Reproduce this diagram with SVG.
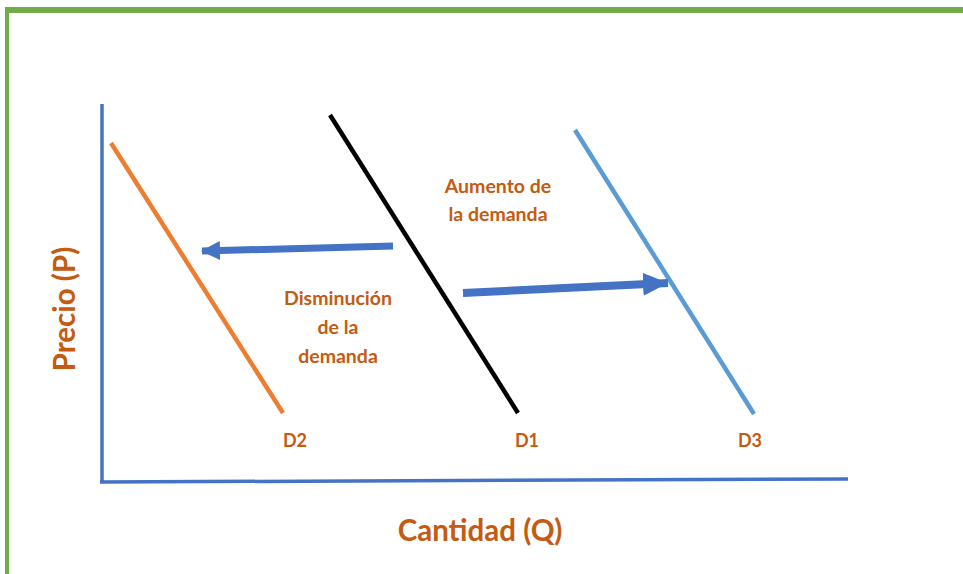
<svg xmlns="http://www.w3.org/2000/svg" width="963" height="574" viewBox="0 0 963 574">
<style>
.lbl{font-family:Lato,"Open Sans","Liberation Sans",sans-serif;font-weight:bold;fill:#C55A11;text-anchor:middle}
.s{font-size:19.5px}
.d{font-size:18px}
.t{font-size:29.5px}
.curve{stroke-width:4.5;fill:none;stroke-linecap:butt}
.arr{stroke:#4472C4;fill:none}
</style>
<defs>
<marker id="ahL" markerUnits="userSpaceOnUse" markerWidth="20" markerHeight="20" refX="18" refY="9.5" orient="auto"><path d="M0,0 L19,9.5 L0,19 Z" fill="#4472C4"/></marker>
<marker id="ahR" markerUnits="userSpaceOnUse" markerWidth="26" markerHeight="24" refX="25" refY="11.5" orient="auto"><path d="M0,0 L25,11.5 L0,23 Z" fill="#4472C4"/></marker>
</defs>
<rect width="963" height="574" fill="#fff"/>
<g id="frame" fill="#70AD47">
<rect x="5" y="7" width="958" height="6"/>
<rect x="5" y="7" width="4" height="567"/>
</g>
<g id="axes" stroke="#4472C4" stroke-width="3.5" fill="none">
<line x1="102" y1="104" x2="102" y2="483"/>
<line x1="100" y1="482" x2="848" y2="479"/>
</g>
<g id="D2"><line class="curve" x1="111" y1="143" x2="283" y2="413" stroke="#ED7D31"/><text class="lbl d" x="295" y="447">D2</text></g>
<g id="D1"><line class="curve" x1="330" y1="115" x2="518" y2="413" stroke="#000"/><text class="lbl d" x="527" y="447">D1</text></g>
<g id="D3"><line class="curve" x1="575" y1="130" x2="754" y2="414" stroke="#5B9BD5"/><text class="lbl d" x="750" y="447">D3</text></g>
<g id="connectors">
<line class="arr" x1="393" y1="246" x2="202" y2="251" stroke-width="7" marker-end="url(#ahL)"/>
<line class="arr" x1="463" y1="293" x2="668" y2="283" stroke-width="8" marker-end="url(#ahR)"/>
</g>
<g id="label-aumento"><text class="lbl s" x="498" y="193">Aumento de</text><text class="lbl s" x="498" y="221">la demanda</text></g>
<g id="label-disminucion"><text class="lbl s" x="338" y="305">Disminución</text><text class="lbl s" x="338" y="334">de la</text><text class="lbl s" x="338" y="363">demanda</text></g>
<text class="lbl t" x="480" y="541">Cantidad (Q)</text>
<text class="lbl t" transform="translate(75,309) rotate(-90)" x="0" y="0">Precio (P)</text>
</svg>
